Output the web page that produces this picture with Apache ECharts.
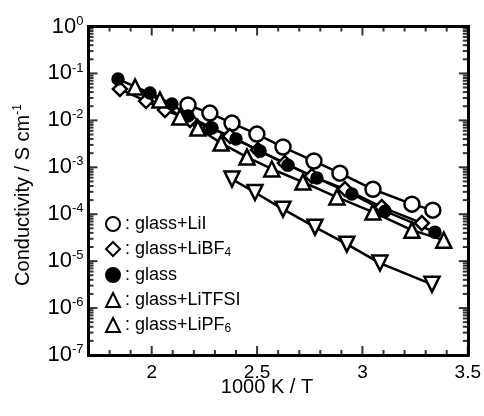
<!DOCTYPE html>
<html>
<head>
<meta charset="utf-8">
<script src="https://cdn.jsdelivr.net/npm/echarts@6/dist/echarts.min.js"></script>
<style>
html,body{margin:0;padding:0;background:#fff;}
#c{width:484px;height:416px;}
</style>
</head>
<body>
<div id="c"></div>
<script>
// ---- data (1000K/T, conductivity S/cm) ----
const xLiI = [2.172, 2.276, 2.381, 2.499, 2.623, 2.770, 2.893, 3.050, 3.235, 3.334];
const yLiI = [2.12e-2, 1.43e-2, 8.75e-3, 5.1e-3, 2.7e-3, 1.36e-3, 7.5e-4, 3.4e-4, 1.64e-4, 1.22e-4];

const xLiBF4 = [1.849, 1.973, 2.063, 2.182, 2.277, 2.371, 2.504, 2.632, 2.760, 2.917, 3.092, 3.282];
const yLiBF4 = [4.65e-2, 2.58e-2, 1.66e-2, 1.02e-2, 6.85e-3, 4.63e-3, 2.33e-3, 1.23e-3, 6.5e-4, 3.43e-4, 1.42e-4, 6.46e-5];

const xGlass = [1.840, 1.992, 2.096, 2.172, 2.286, 2.400, 2.514, 2.647, 2.784, 2.950, 3.107, 3.344];
const yGlass = [7.6e-2, 3.82e-2, 2.23e-2, 1.24e-2, 6.85e-3, 4.0e-3, 2.21e-3, 1.11e-3, 5.9e-4, 2.7e-4, 1.16e-4, 4.15e-5];

const xLiTFSI = [1.921, 2.039, 2.134, 2.219, 2.329, 2.452, 2.570, 2.718, 2.879, 3.050, 3.235, 3.386];
const yLiTFSI = [5.13e-2, 2.71e-2, 1.18e-2, 6.85e-3, 3.28e-3, 1.65e-3, 9.2e-4, 4.83e-4, 2.32e-4, 1.11e-4, 4.58e-5, 2.8e-5];

const xLiPF6 = [2.381, 2.490, 2.623, 2.775, 2.926, 3.083, 3.330];
const yLiPF6 = [5.6e-4, 2.9e-4, 1.28e-4, 5.3e-5, 2.3e-5, 9.1e-6, 3.2e-6];

const seriesNames = ['glass+LiI', 'glass+LiBF4', 'glass', 'glass+LiTFSI', 'glass+LiPF6'];
const legendLabels = [': glass+LiI', ': glass+LiBF|4', ': glass', ': glass+LiTFSI', ': glass+LiPF|6'];

// tick values
const xMajor = [2, 2.5, 3, 3.5];
const xMinor = [1.8, 1.9, 2.1, 2.2, 2.3, 2.4, 2.6, 2.7, 2.8, 2.9, 3.1, 3.2, 3.3, 3.4];
const yExponents = [-7, -6, -5, -4, -3, -2, -1, 0];
const yMinorMultipliers = [2, 3, 4, 5, 6, 7, 8, 9];

const xTitle = '1000 K / T';
const yTitle = 'Conductivity / S cm';
const yTitleSup = '-1';
</script>
<script>
const FONT = "'Liberation Sans', Arial, sans-serif";
const X_MIN = 1.7, X_MAX = 3.5, Y_MIN = 1e-7, Y_MAX = 1;
const yMajor = yExponents.map(e => Math.pow(10, e));
const yMinor = [];
yExponents.slice(0, -1).forEach(e => yMinorMultipliers.forEach(m => yMinor.push(m * Math.pow(10, e))));

const zip = (xs, ys) => xs.map((x, i) => [x, ys[i]]);
const axisLineStyle = {color: '#000', width: 3, cap: 'square'};

function xAx(pos, labels) {
  return {
    type: 'value', min: X_MIN, max: X_MAX, position: pos,
    axisLine: {show: true, onZero: false, lineStyle: axisLineStyle},
    splitLine: {show: false},
    axisTick: {show: false},
    axisLabel: {customValues: xMajor, color: '#000', fontSize: 19, fontFamily: FONT, margin: 8,
      formatter: v => labels ? String(v) : ''}
  };
}
function yAx(pos, labels) {
  return {
    type: 'log', min: Y_MIN, max: Y_MAX, position: pos,
    axisLine: {show: true, onZero: false, lineStyle: axisLineStyle},
    splitLine: {show: false},
    axisTick: {show: false},
    axisLabel: {customValues: yMajor, color: '#000', margin: 5, fontFamily: FONT,
      formatter: v => labels ? '{b|10}{e|' + Math.round(Math.log10(v)) + '}' : '',
      rich: {
        b: {fontSize: 22, lineHeight: 24, fontFamily: FONT, color: '#000'},
        e: {fontSize: 13, lineHeight: 13, verticalAlign: 'top', fontFamily: FONT, color: '#000'}
      }}
  };
}

const lineW = 2.5;
function mkSeries(name, data, symbol, size, fill, rotate) {
  return {
    name, type: 'line', data, symbol, symbolSize: size, symbolRotate: rotate || 0,
    xAxisIndex: 0, yAxisIndex: 0, z: 3,
    lineStyle: {color: '#000', width: lineW},
    itemStyle: {color: fill, borderColor: '#000', borderWidth: lineW},
    emphasis: {disabled: true}
  };
}

// inside tick marks of the frame, placed through the axes' scales
function tickMarks(name, data, size, offset) {
  return {
    name, type: 'scatter', data, symbol: 'rect', symbolSize: size, symbolOffset: offset,
    xAxisIndex: 0, yAxisIndex: 0, z: 1, silent: true, clip: false,
    itemStyle: {color: '#000'}, emphasis: {disabled: true}, tooltip: {show: false}
  };
}
const MAJ = 9, MIN = 5, TW = 2;
const tickSeries = [
  tickMarks('tick-b-major', xMajor.map(x => [x, Y_MIN]), [TW, MAJ], [0, -MAJ / 2]),
  tickMarks('tick-b-minor', xMinor.map(x => [x, Y_MIN]), [TW, MIN], [0, -MIN / 2]),
  tickMarks('tick-t-major', xMajor.map(x => [x, Y_MAX]), [TW, MAJ], [0, MAJ / 2]),
  tickMarks('tick-t-minor', xMinor.map(x => [x, Y_MAX]), [TW, MIN], [0, MIN / 2]),
  tickMarks('tick-l-major', yMajor.map(y => [X_MIN, y]), [MAJ, TW], [MAJ / 2, 0]),
  tickMarks('tick-l-minor', yMinor.map(y => [X_MIN, y]), [MIN, TW], [MIN / 2, 0]),
  tickMarks('tick-r-major', yMajor.map(y => [X_MAX, y]), [MAJ, TW], [-MAJ / 2, 0]),
  tickMarks('tick-r-minor', yMinor.map(y => [X_MAX, y]), [MIN, TW], [-MIN / 2, 0])
];

const chart = echarts.init(document.getElementById('c'));
chart.setOption({
  animation: false,
  backgroundColor: '#fff',
  grid: {left: 88.5, right: 16, top: 26.5, bottom: 61},
  xAxis: [xAx('bottom', true), xAx('top', false)],
  yAxis: [yAx('left', true), yAx('right', false)],
  legend: {
    orient: 'vertical', left: 105, top: 215, padding: 0,
    itemWidth: 14, itemHeight: 14, itemGap: 7,
    selectedMode: false,
    data: [
      {name: seriesNames[0], icon: 'circle'},
      {name: seriesNames[1], icon: 'diamond'},
      {name: seriesNames[2], icon: 'circle'},
      {name: seriesNames[3], icon: 'triangle'},
      {name: seriesNames[4], icon: 'triangle'}
    ],
    formatter: name => {
      const lab = legendLabels[seriesNames.indexOf(name)];
      const parts = lab.split('|');
      return '{t|' + parts[0] + '}' + (parts[1] ? '{s|' + parts[1] + '}' : '');
    },
    textStyle: {
      color: '#000', fontFamily: FONT, fontSize: 18,
      rich: {
        t: {fontSize: 18, lineHeight: 20, fontFamily: FONT, color: '#000'},
        s: {fontSize: 12, lineHeight: 12, verticalAlign: 'bottom', fontFamily: FONT, color: '#000'}
      }
    }
  },
  series: [
    mkSeries(seriesNames[0], zip(xLiI, yLiI), 'circle', 15, '#fff'),
    mkSeries(seriesNames[1], zip(xLiBF4, yLiBF4), 'diamond', 14, '#fff'),
    mkSeries(seriesNames[2], zip(xGlass, yGlass), 'circle', 11, '#000'),
    mkSeries(seriesNames[3], zip(xLiTFSI, yLiTFSI), 'triangle', 15, '#fff'),
    mkSeries(seriesNames[4], zip(xLiPF6, yLiPF6), 'triangle', 15, '#fff', 180)
  ].concat(tickSeries),
  graphic: [
    {type: 'text', x: 267, y: 387, style: {text: xTitle, font: '20px ' + FONT, fill: '#000', align: 'center', verticalAlign: 'middle'}},
    {type: 'text', x: 23, y: 195, rotation: Math.PI / 2,
      style: {text: '{a|' + yTitle + '}{s|' + yTitleSup + '}', align: 'center', verticalAlign: 'middle', fill: '#000',
        rich: {a: {fontSize: 20, lineHeight: 22, fontFamily: FONT, fill: '#000'}, s: {fontSize: 12, lineHeight: 12, verticalAlign: 'top', fontFamily: FONT, fill: '#000'}}}}
  ]
});
</script>
</body>
</html>
